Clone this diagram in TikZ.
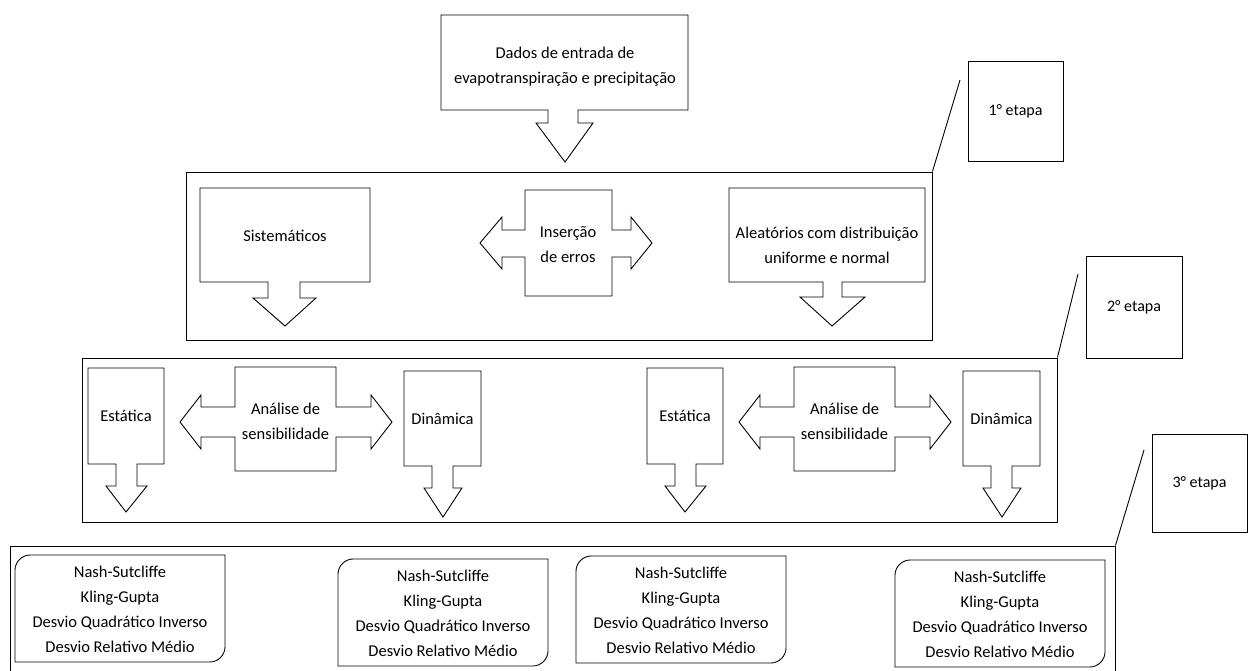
\documentclass[tikz,border=0pt]{standalone}
\usepackage{fontspec}
\setmainfont{Carlito}
\tikzset{
	forma/.style={draw, line width=0.9pt, fill=white},
	moldura/.style={draw, line width=0.9pt, inner sep=0pt},
	etapabox/.style={draw, line width=0.9pt, minimum width=95pt, minimum height=100pt, font=\fontsize{16}{25}\selectfont},
	txt/.style={align=center, inner sep=0pt, font=\fontsize{16.5}{25}\selectfont},
}
\begin{document}
\begin{tikzpicture}[x=1pt,y=-1pt]
		\clip (0,0) rectangle (1248,671);
		% molduras das etapas
		\node[moldura, minimum width=746pt, minimum height=168pt] (etapa1) at (559,256) {};
		\node[moldura, minimum width=975pt, minimum height=164pt] (etapa2) at (569.5,440) {};
		\node[moldura, minimum width=1105pt, minimum height=154pt] (etapa3) at (562.5,623) {};
		\node[etapabox] (rot1) at (1015.5,111.5) {1° etapa};
		\node[etapabox, minimum width=96pt, minimum height=102pt] (rot2) at (1134,307) {2° etapa};
		\node[etapabox, minimum height=98pt] (rot3) at (1199.5,483) {3° etapa};
		\coordinate (p1) at (960,80);
		\coordinate (p2) at (1078,274);
		\coordinate (p3) at (1144,450);
		\draw[line width=0.9pt] (etapa1.north east) -- (p1);
		\draw[line width=0.9pt] (etapa2.north east) -- (p2);
		\draw[line width=0.9pt] (etapa3.north east) -- (p3);
		% entrada
		\draw[forma] (441,15) -- (688,15) -- (688,110) -- (578,110) -- (578,123) -- (593,123) -- (565,162) -- (536,123) -- (548,123) -- (548,110) -- (441,110) -- cycle;
		\node[txt] (dados) at (565,67) {Dados de entrada de\\evapotranspiração e precipitação};
		% 1a etapa
		\draw[forma] (200,188) -- (370,188) -- (370,282) -- (300,282) -- (300,298) -- (316,298) -- (285,326) -- (253,298) -- (268,298) -- (268,282) -- (200,282) -- cycle;
		\node[txt] (sist) at (285,236) {Sistemáticos};
		\draw[forma] (525,190) -- (612,190) -- (612,230) -- (631,230) -- (631,217) -- (652,243) -- (631,269) -- (631,257) -- (612,257) -- (612,296) -- (525,296) -- (525,257) -- (502,257) -- (502,269) -- (480,243) -- (502,217) -- (502,230) -- (525,230) -- cycle;
		\node[txt] (insercao) at (568,245) {Inserção\\de erros};
		\draw[forma] (729,188) -- (925,188) -- (925,282) -- (842,282) -- (842,297) -- (865,297) -- (832,326) -- (800,297) -- (823,297) -- (823,282) -- (729,282) -- cycle;
		\node[txt] (alea) at (827,245) {Aleatórios com distribuição\\uniforme e normal};
		% 2a etapa
		\foreach \s in {0,559}{
			\begin{scope}[xshift=\s pt]
				\draw[forma] (88,368) -- (164,368) -- (164,464) -- (137,464) -- (137,486) -- (147,486) -- (126,512) -- (106,486) -- (116,486) -- (116,464) -- (88,464) -- cycle;
				\node[txt] (estatica\s) at (126,416) {Estática};
				\draw[forma] (235,367) -- (336,367) -- (336,407) -- (371,407) -- (371,395) -- (392,422) -- (371,449) -- (371,437) -- (336,437) -- (336,471) -- (235,471) -- (235,437) -- (201,437) -- (201,449) -- (180,422) -- (201,395) -- (201,407) -- (235,407) -- cycle;
				\node[txt] (analise\s) at (285.5,421) {Análise de\\sensibilidade};
				\draw[forma] (404,371) -- (481,371) -- (481,466) -- (453,466) -- (453,488) -- (462,488) -- (443,517) -- (424,488) -- (432,488) -- (432,466) -- (404,466) -- cycle;
				\node[txt] (dinamica\s) at (442.5,419) {Dinâmica};
			\end{scope}
		};
		% 3a etapa
		\foreach \xa/\ya/\nome in {15/555/m1, 338/559/m2, 576/556/m3, 895/560/m4}{
			\draw[forma] (\xa+15,\ya) -- (\xa+210,\ya) -- (\xa+210,\ya+92) .. controls (\xa+210,\ya+100) and (\xa+203,\ya+107) .. (\xa+195,\ya+107) -- (\xa,\ya+107) -- (\xa,\ya+15) .. controls (\xa,\ya+7) and (\xa+7,\ya) .. (\xa+15,\ya) -- cycle;
			\node[txt] (\nome) at (\xa+105,\ya+54) {Nash-Sutcliffe\\Kling-Gupta\\Desvio Quadrático Inverso\\Desvio Relativo Médio};
		};
\end{tikzpicture}
\end{document}
